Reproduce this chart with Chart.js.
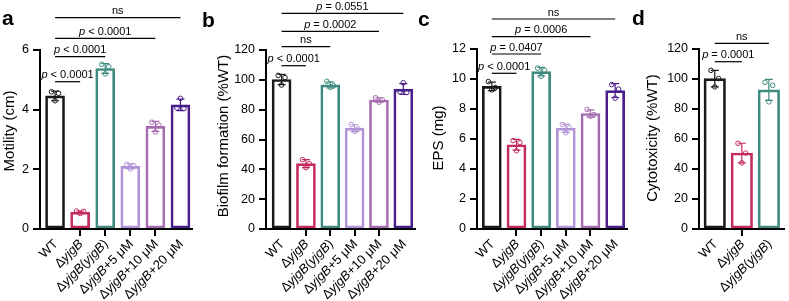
<!DOCTYPE html>
<html><head><meta charset="utf-8">
<script src="https://cdn.jsdelivr.net/npm/chart.js@4.4.0/dist/chart.umd.min.js"></script>
<style>
html,body{margin:0;padding:0;background:#fff;width:789px;height:301px;overflow:hidden;position:relative}
.p{position:absolute;top:0;height:301px}
canvas{display:block}
</style></head><body>
<script>
const FAM = "'Liberation Sans', Arial, Helvetica, sans-serif";

// ---- categories ----
const cats6 = ['WT','Δ*yjgB*','Δ*yjgB*(*yjgB*)','Δ*yjgB*+5 μM','Δ*yjgB*+10 μM','Δ*yjgB*+20 μM'];
const cats3 = ['WT','Δ*yjgB*','Δ*yjgB*(*yjgB*)'];

// ---- panel a: motility ----
const motilityMean = [4.46, 0.56, 5.38, 2.10, 3.44, 4.16];
const motilityPts  = [[4.60,4.55,4.30],[0.60,0.59,0.52],[5.52,5.44,5.20],[2.17,2.12,2.01],[3.58,3.48,3.25],[4.06,4.04,4.38]];
const motilityTicks = [0,2,4,6];
const motilityStats = [[0,1,'*p* < 0.0001'],[0,2,'*p* < 0.0001'],[0,4,'*p* < 0.0001'],[0,5,'ns']];

// ---- panel b: biofilm ----
const biofilmMean = [100.2, 43.8, 96.6, 67.6, 86.5, 93.8];
const biofilmPts  = [[103,101.5,96.5],[46.5,43.8,41.2],[99,96,95],[70,67,65.5],[88,86.5,85],[92,91.5,98]];
const biofilmTicks = [0,20,40,60,80,100,120];
const biofilmStats = [[0,1,'*p* < 0.0001'],[0,2,'ns'],[0,4,'*p* = 0.0002'],[0,5,'*p* = 0.0551']];

// ---- panel c: EPS ----
const epsMean = [9.48, 5.60, 10.46, 6.70, 7.68, 9.20];
const epsPts  = [[9.8,9.4,9.25],[5.88,5.75,5.2],[10.7,10.55,10.15],[6.95,6.75,6.4],[7.95,7.6,7.5],[9.6,9.3,8.7]];
const epsTicks = [0,2,4,6,8,10,12];
const epsStats = [[0,1,'*p* < 0.0001'],[0,2,'*p* = 0.0407'],[0,4,'*p* = 0.0006'],[0,5,'ns']];

// ---- panel d: cytotoxicity ----
const cytoMean = [100.0, 50.5, 92.5];
const cytoPts  = [[105.5,100,94.5],[57,50.5,44],[97.5,95.5,84.5]];
const cytoTicks = [0,20,40,60,80,100,120];
const cytoStats = [[0,1,'*p* = 0.0001'],[0,2,'ns']];

// ---- styles ----
const COL6 = ['#1a1a1a','#c42a5c','#3e8a7e','#b393d8','#a56db0','#4a1f8a'];
const COL3 = ['#1a1a1a','#c42a5c','#3e8a7e'];
const JIT = [-0.14, 0.14, 0];

const panels = [
 {letter:'a', title:'Motility (cm)', cats:cats6, means:motilityMean, pts:motilityPts, ticks:motilityTicks, stats:motilityStats, colors:COL6,
  L:{left:0, width:200, yW:40, top:50, right:8, xMin:-0.6, xMax:5.46, bar:19, titleX:10, titleY:131, letterX:2, letterY:25, statY:[81.7,56.7,38.3,17.7]}},
 {letter:'b', title:'Biofilm formation (%WT)', cats:cats6, means:biofilmMean, pts:biofilmPts, ticks:biofilmTicks, stats:biofilmStats, colors:COL6,
  L:{left:200, width:220, yW:66, top:50, right:1, xMin:-0.64, xMax:5.48, bar:19, titleX:224, titleY:136, letterX:202, letterY:27, statY:[65.7,46.7,31.3,13.3]}},
 {letter:'c', title:'EPS (mg)', cats:cats6, means:epsMean, pts:epsPts, ticks:epsTicks, stats:epsStats, colors:COL6,
  L:{left:412, width:220, yW:65, top:48.5, right:3, xMin:-0.6, xMax:5.48, bar:19, titleX:439, titleY:138, letterX:418, letterY:26, statY:[73.3,54,36.7,19]}},
 {letter:'d', title:'Cytotoxicity (%WT)', cats:cats3, means:cytoMean, pts:cytoPts, ticks:cytoTicks, stats:cytoStats, colors:COL3,
  L:{left:628, width:161, yW:71, top:48.5, right:1, xMin:-0.583, xMax:2.56, bar:21.5, titleX:653, titleY:138, letterX:632, letterY:25, statY:[61.7,43.3]}}
];

function segs(s){ const out=[]; s.split('*').forEach((t,k)=>{ if(t) out.push({t, it:k%2===1}); }); return out; }
function fontOf(it,size,bold){ return (it?'italic ':'')+(bold?'bold ':'')+size+'px '+FAM; }
function richW(ctx,s,size){ let w=0; for(const g of segs(s)){ ctx.font=fontOf(g.it,size); w+=ctx.measureText(g.t).width; } return w; }
function drawRich(ctx,s,x,y,size,align){
  const w=richW(ctx,s,size); let cx = align==='right'? x-w : (align==='center'? x-w/2 : x);
  ctx.textAlign='left';
  for(const g of segs(s)){ ctx.font=fontOf(g.it,size); ctx.fillText(g.t,cx,y); cx+=ctx.measureText(g.t).width; }
}
function sd(a){ const m=a.reduce((s,v)=>s+v,0)/a.length; return Math.sqrt(a.reduce((s,v)=>s+(v-m)*(v-m),0)/(a.length-1)); }

function build(P){
  const L=P.L;
  const wrap=document.createElement('div'); wrap.className='p'; wrap.style.left=L.left+'px'; wrap.style.width=L.width+'px';
  const cv=document.createElement('canvas'); cv.width=L.width; cv.height=301; wrap.appendChild(cv); document.body.appendChild(wrap);
  const barData=P.means.map((v,i)=>({x:i,y:v}));
  const ptData=[], ptCol=[];
  P.pts.forEach((arr,i)=>arr.forEach((v,j)=>{ ptData.push({x:i+JIT[j], y:v}); ptCol.push(P.colors[i]); }));
  const deco={ id:'deco'+P.letter,
    afterDatasetsDraw(chart){
      const ctx=chart.ctx, xs=chart.scales.x, ys=chart.scales.y;
      ctx.save(); ctx.lineWidth=1.2;
      P.pts.forEach((arr,i)=>{
        const s=sd(arr), m=P.means[i], x=xs.getPixelForValue(i);
        const y1=ys.getPixelForValue(m+s), y2=ys.getPixelForValue(m-s);
        ctx.strokeStyle=P.colors[i]; ctx.beginPath();
        ctx.moveTo(x,y1); ctx.lineTo(x,y2);
        ctx.moveTo(x-4,y1); ctx.lineTo(x+4,y1);
        ctx.moveTo(x-4,y2); ctx.lineTo(x+4,y2);
        ctx.stroke();
      });
      ctx.restore();
    },
    afterDraw(chart){
      const ctx=chart.ctx, xs=chart.scales.x, ca=chart.chartArea;
      ctx.save(); ctx.fillStyle='#000';
      // x labels
      ctx.textBaseline='middle';
      P.cats.forEach((c,i)=>{
        const x=xs.getPixelForValue(i);
        ctx.save(); ctx.translate(x+1, ca.bottom+13); ctx.rotate(-Math.PI/4);
        drawRich(ctx,c,0,0,13,'right'); ctx.restore();
      });
      // y title
      ctx.save(); ctx.translate(L.titleX-L.left, L.titleY); ctx.rotate(-Math.PI/2);
      drawRich(ctx,P.title,0,0,15,'center'); ctx.restore();
      // letter
      ctx.textBaseline='alphabetic'; ctx.font=fontOf(false,21,true); ctx.textAlign='left';
      ctx.fillText(P.letter, L.letterX-L.left, L.letterY);
      // stats brackets
      ctx.strokeStyle='#000'; ctx.lineWidth=1.2;
      P.stats.forEach((b,k)=>{
        const x1=xs.getPixelForValue(b[0]), x2=xs.getPixelForValue(b[1]), y=L.statY[k];
        ctx.beginPath(); ctx.moveTo(x1,y); ctx.lineTo(x2,y); ctx.stroke();
        drawRich(ctx,b[2],(x1+x2)/2,y-3.5,11,'center');
      });
      ctx.restore();
    }
  };
  new Chart(cv,{
    type:'bar',
    data:{datasets:[
      {type:'bar', data:barData, backgroundColor:'rgba(255,255,255,0)', borderColor:P.colors, borderWidth:2, borderSkipped:false, barThickness:L.bar},
      {type:'scatter', data:ptData, pointRadius:2.3, pointBorderWidth:1, pointBorderColor:ptCol, pointBackgroundColor:'rgba(255,255,255,0)'}
    ]},
    options:{
      responsive:false, animation:false, events:[],
      layout:{padding:{left:0,right:L.right,top:L.top,bottom:0}},
      plugins:{legend:{display:false}, tooltip:{enabled:false}},
      scales:{
        x:{type:'linear', min:L.xMin, max:L.xMax, offset:false,
           ticks:{display:false, stepSize:1},
           afterBuildTicks:s=>{ s.ticks=s.ticks.filter(t=>Math.abs(t.value-Math.round(t.value))<1e-6 && t.value>=0); },
           grid:{display:true, drawOnChartArea:false, drawTicks:true, tickLength:7, lineWidth:2, color:'#000', offset:false},
           border:{display:true, width:2, color:'#000'},
           afterFit:s=>{ s.height=72; }},
        y:{type:'linear', min:P.ticks[0], max:P.ticks[P.ticks.length-1],
           ticks:{color:'#000', font:{family:FAM, size:12.5}, padding:4},
           afterBuildTicks:s=>{ s.ticks=P.ticks.map(v=>({value:v})); },
           grid:{display:true, drawOnChartArea:false, drawTicks:true, tickLength:7, lineWidth:2, color:'#000'},
           border:{display:true, width:2, color:'#000'},
           afterFit:s=>{ s.width=L.yW; }}
      }
    },
    plugins:[deco]
  });
}
panels.forEach(build);
</script>
</body></html>
